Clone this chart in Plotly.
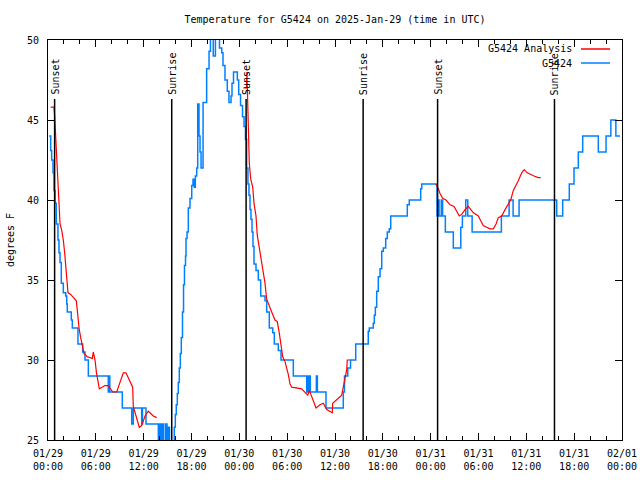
import datetime as dt
import plotly.graph_objects as go

BASE = dt.datetime(2025, 1, 29, 0, 0)

# ---- observed station series (hours after 01/29 00:00 UTC, deg F) ----
obs_hours = [
    0.13, 0.34, 0.46, 0.63, 0.75, 0.88, 1.04, 1.25, 1.38, 1.51,
    1.67, 1.92, 2.22, 2.35, 2.42, 2.92, 3.05, 3.76, 4.35, 4.64,
    5.06, 7.56, 7.65, 7.75, 9.32, 10.5, 10.7, 11.75, 11.85, 12.29,
    13.84, 14.01, 14.18, 14.34, 14.51, 14.76, 14.93, 15.09, 15.24, 15.84,
    15.97, 16.09, 16.22, 16.34, 16.47, 16.6, 16.72, 16.87, 17.0, 17.12,
    17.25, 17.31, 17.44, 17.6, 17.81, 18.03, 18.19, 18.35, 18.48, 18.65,
    18.78, 18.94, 19.07, 19.2, 19.45, 19.9, 20.2, 20.38, 20.73, 21.0,
    21.51, 21.79, 21.95, 22.2, 22.49, 22.7, 22.96, 23.08, 23.27, 23.75,
    23.92, 24.15, 24.4, 24.59, 24.77, 24.92, 25.08, 25.21, 25.34, 25.46,
    25.59, 25.71, 25.84, 26.09, 26.38, 26.68, 27.22, 27.43, 27.76, 28.19,
    28.39, 28.89, 29.23, 30.77, 32.45, 32.58, 32.7, 32.83, 32.9, 33.66,
    33.79, 34.87, 37.04, 37.19, 37.6, 37.95, 38.6, 40.17, 40.3, 40.8,
    40.93, 41.06, 41.23, 41.43, 41.65, 41.86, 42.06, 42.36, 42.56, 42.81,
    42.99, 45.07, 45.32, 46.75, 46.88, 48.8, 48.93, 49.05, 49.33, 49.5,
    49.84, 50.84, 51.78, 51.98, 52.4, 52.65, 53.2, 56.87, 57.84, 58.34,
    59.09, 63.81, 64.56, 65.39, 65.98, 66.52, 67.07, 69.03, 70.0, 70.6,
    71.23, 71.75,
]
obs_temp = [
    44.0, 43.1, 42.5, 41.7, 40.6, 39.8, 38.5, 37.5, 36.7, 36.1,
    34.8, 34.2, 34.0, 33.5, 33.0, 32.5, 32.0, 31.0, 30.5, 30.0,
    29.0, 28.0, 29.0, 28.0, 27.0, 26.0, 27.0, 26.0, 27.0, 26.0,
    24.5, 26.0, 24.5, 26.0, 24.5, 26.0, 24.5, 25.8, 24.5, 25.8,
    26.6, 27.2, 27.9, 28.6, 29.5, 30.4, 31.4, 33.0, 34.7, 35.9,
    36.5, 37.6, 38.0, 39.5, 40.1, 40.9, 41.3, 40.8, 41.5, 42.0,
    46.0, 44.0, 43.0, 42.0, 46.1, 48.2, 49.3, 50.3, 49.0, 50.3,
    49.5, 49.2, 48.4, 47.5, 46.8, 46.1, 46.5, 47.3, 48.0, 47.5,
    46.6, 45.9, 45.2, 44.6, 43.8, 42.0, 41.0, 40.3, 39.4, 38.8,
    38.0, 37.1, 36.0, 35.6, 35.0, 34.0, 33.7, 33.0, 32.0, 31.7,
    31.0, 30.6, 30.0, 29.0, 28.0, 29.0, 28.0, 29.0, 28.0, 29.0,
    28.0, 27.0, 28.0, 29.0, 29.5, 30.0, 31.0, 31.8, 32.0, 32.3,
    32.8, 33.3, 34.3, 35.2, 35.7, 36.8, 37.0, 37.6, 38.0, 38.2,
    39.0, 39.7, 40.0, 40.7, 41.0, 39.0, 40.0, 39.0, 40.0, 39.0,
    38.0, 37.0, 38.3, 39.0, 40.0, 39.0, 38.0, 39.0, 40.0, 39.0,
    40.0, 39.0, 40.0, 41.0, 42.0, 43.0, 44.0, 43.0, 44.0, 45.0,
    44.0, 44.0,
]

# ---- analysis series, three runs ----
ana1_hours = [0.34, 0.75, 0.84, 0.97, 1.09, 1.17, 1.38, 1.51, 1.72, 1.92,
              2.09, 2.22, 2.35, 2.42, 2.51, 2.85, 3.35, 3.55, 3.68, 3.76,
              3.89, 4.1, 4.3, 4.52, 4.93, 5.56, 5.68, 5.9, 6.08, 6.44,
              7.15, 7.56, 8.12, 8.62, 9.03, 9.45, 9.78, 10.29, 10.62, 10.7,
              11.13, 11.45, 11.75, 12.17, 12.58, 13.21, 13.64]
ana1_temp = [45.8, 45.8, 45.2, 44.0, 42.7, 41.6, 39.7, 38.5, 38.1, 37.5,
             36.7, 35.9, 35.2, 34.4, 34.2, 34.1, 33.8, 33.7, 33.1, 32.5,
             32.0, 31.4, 30.8, 30.4, 30.2, 30.1, 30.5, 30.0, 29.2, 28.2,
             28.4, 28.4, 28.0, 28.0, 28.6, 29.2, 29.2, 28.7, 28.3, 27.1,
             26.3, 25.8, 25.9, 26.5, 26.8, 26.5, 26.4]
ana2_hours = [24.5, 24.9, 24.95, 25.0, 25.13, 25.25, 25.43, 25.68, 25.84, 26.09,
              26.25, 26.51, 26.68, 26.99, 27.22, 27.43, 27.63, 28.06, 28.47, 28.76,
              29.01, 29.19, 29.44, 29.73, 29.94, 30.14, 30.36, 30.57, 31.82, 32.24,
              32.58, 32.78, 33.08, 33.37, 33.62, 34.12, 34.53, 34.96, 35.37, 35.66,
              35.71, 36.13, 36.54, 36.84, 37.04, 37.25, 37.47, 37.54, 37.88]
ana2_temp = [47.0, 47.0, 48.0, 46.9, 44.0, 42.3, 41.3, 40.8, 39.8, 39.0,
             37.8, 37.0, 36.5, 35.8, 34.8, 33.8, 33.5, 33.0, 32.5, 32.4,
             31.7, 31.1, 30.2, 29.9, 29.5, 29.1, 28.5, 28.3, 28.2, 28.0,
             27.8, 28.1, 27.7, 27.3, 27.0, 27.2, 27.3, 26.9, 26.8, 26.7,
             27.3, 27.5, 27.7, 27.8, 28.3, 28.9, 29.4, 30.0, 30.0]
ana3_hours = [48.65, 48.76, 48.96, 49.17, 49.51, 49.92, 50.43, 50.93, 51.27, 51.59,
              51.89, 52.31, 52.72, 53.02, 53.36, 53.69, 53.98, 54.28, 54.6, 55.03,
              55.44, 55.86, 56.2, 56.49, 56.91, 57.33, 57.74, 58.04, 58.37, 58.7,
              58.99, 59.42, 59.74, 60.12, 60.46, 60.96, 61.5, 61.8]
ana3_temp = [41.0, 40.9, 40.7, 40.4, 40.1, 40.0, 39.7, 39.6, 39.3, 39.0,
             39.1, 39.4, 39.6, 39.4, 39.2, 39.1, 39.0, 38.7, 38.4, 38.3,
             38.2, 38.2, 38.5, 38.9, 39.0, 39.4, 39.7, 40.0, 40.6, 40.9,
             41.2, 41.7, 41.9, 41.7, 41.6, 41.5, 41.4, 41.4]

# ---- sun events ----
event_hours = [0.83, 15.52, 24.85, 39.53, 48.87, 63.53]
event_labels = ["Sunset", "Sunrise", "Sunset", "Sunrise", "Sunset", "Sunrise"]

# ---- axis ticks ----
tick_hours = [0, 6, 12, 18, 24, 30, 36, 42, 48, 54, 60, 66, 72]
tick_labels = ["01/29<br>00:00", "01/29<br>06:00", "01/29<br>12:00", "01/29<br>18:00",
               "01/30<br>00:00", "01/30<br>06:00", "01/30<br>12:00", "01/30<br>18:00",
               "01/31<br>00:00", "01/31<br>06:00", "01/31<br>12:00", "01/31<br>18:00",
               "02/01<br>00:00"]
y_ticks = [25, 30, 35, 40, 45, 50]

series_names = ["G5424 Analysis", "G5424"]
series_colors = ["#ff0000", "#0080ff"]


def to_time(hours):
    return [None if h is None else BASE + dt.timedelta(hours=h) for h in hours]


FONT = "DejaVu Sans Mono"

fig = go.Figure()

ana_hours = ana1_hours + [None] + ana2_hours + [None] + ana3_hours
ana_temp = ana1_temp + [None] + ana2_temp + [None] + ana3_temp

fig.add_trace(go.Scatter(
    x=to_time(obs_hours), y=obs_temp, mode="lines", name=series_names[1],
    line=dict(color=series_colors[1], width=1.5, shape="hv"), showlegend=False,
))
fig.add_trace(go.Scatter(
    x=to_time(ana_hours), y=ana_temp, mode="lines", name=series_names[0],
    line=dict(color=series_colors[0], width=1.2), connectgaps=False, showlegend=False,
))

shapes = []
annotations = []
for h, lab in zip(event_hours, event_labels):
    t = BASE + dt.timedelta(hours=h)
    shapes.append(dict(type="line", xref="x", yref="paper", x0=t, x1=t, y0=0, y1=0.8525,
                       line=dict(color="black", width=1.5), layer="above"))
    annotations.append(dict(x=t, xref="x", y=0.8575, yref="paper", text=lab,
                            textangle=-90, showarrow=False, xanchor="center",
                            yanchor="bottom", xshift=1,
                            font=dict(family=FONT, size=10, color="black")))

# manual gnuplot-style legend (text right, sample line on the right)
leg_y = [0.9775, 0.9425]
for name, color, yy in zip(series_names, series_colors, leg_y):
    annotations.append(dict(x=0.9164, xref="paper", y=yy, yref="paper", text=name,
                            showarrow=False, xanchor="right", yanchor="middle",
                            font=dict(family=FONT, size=10, color="black")))
    shapes.append(dict(type="line", xref="paper", yref="paper", x0=0.9286, x1=0.9791,
                       y0=yy, y1=yy, line=dict(color=color, width=1.5)))

# y-axis label
annotations.append(dict(x=-0.066, xref="paper", y=0.5, yref="paper", text="degrees F",
                        textangle=-90, showarrow=False, xanchor="center", yanchor="middle",
                        font=dict(family=FONT, size=10, color="black")))

fig.update_layout(
    width=640, height=480,
    margin=dict(l=48, r=18, t=40, b=40, autoexpand=False),
    paper_bgcolor="white", plot_bgcolor="white",
    font=dict(family=FONT, size=10, color="black"),
    title=dict(text="Temperature for G5424 on 2025-Jan-29 (time in UTC)",
               x=0.5, xref="paper", xanchor="center", y=1 - 19 / 480, yanchor="middle",
               font=dict(family=FONT, size=10, color="black")),
    shapes=shapes, annotations=annotations,
    showlegend=False,
)
fig.update_xaxes(
    range=[BASE, BASE + dt.timedelta(hours=72)],
    tickmode="array", tickvals=to_time(tick_hours), ticktext=tick_labels,
    ticks="inside", ticklen=7, tickwidth=1, tickcolor="black",
    showline=True, linecolor="black", linewidth=1, mirror="allticks",
    showgrid=False, zeroline=False, ticklabelstandoff=4, automargin=False,
    minor=dict(ticks="inside", ticklen=4, tickcolor="black", dtick=2 * 3600 * 1000,
               tick0=BASE, showgrid=False),
    tickfont=dict(family=FONT, size=10, color="black"),
)
fig.update_yaxes(
    range=[25, 50], tickmode="array", tickvals=y_ticks,
    ticks="inside", ticklen=7, tickwidth=1, tickcolor="black",
    showline=True, linecolor="black", linewidth=1, mirror="allticks",
    showgrid=False, zeroline=False, ticklabelstandoff=6, automargin=False,
    tickfont=dict(family=FONT, size=10, color="black"),
)

fig.write_html(
    "out.html",
    config={"displayModeBar": False},
    post_script="document.body.style.margin='0';document.body.style.overflow='hidden';",
)
